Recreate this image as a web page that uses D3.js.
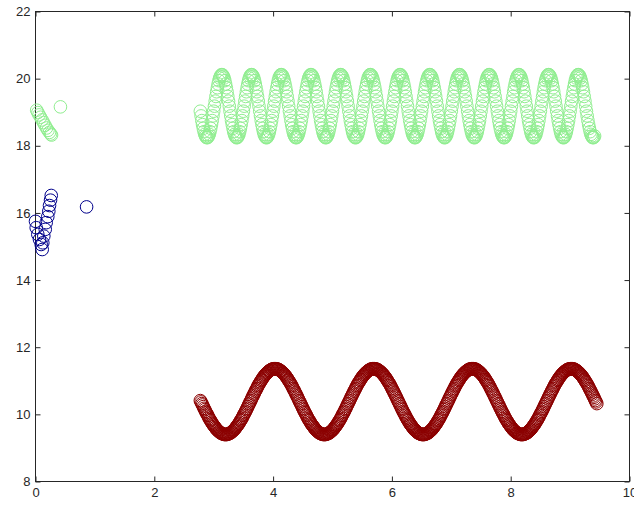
<!DOCTYPE html>
<html>
<head>
<meta charset="utf-8">
<script src="https://cdn.jsdelivr.net/npm/d3@7"></script>
<style>
  html, body { margin: 0; padding: 0; background: #fff; }
  svg { display: block; }
</style>
</head>
<body>
<svg id="chart" width="634" height="505"></svg>
<script>
// Axis ticks
const xTicks = [0, 2, 4, 6, 8, 10];
const yTicks = [8, 10, 12, 14, 16, 18, 20, 22];

// Shared sample positions of the two long waves
const waveX = [
  2.775,2.7875,2.8,2.8125,2.825,2.8375,2.85,2.8625,
  2.875,2.8875,2.9,2.9125,2.925,2.9375,2.95,2.9625,
  2.975,2.9875,3,3.0125,3.025,3.0375,3.05,3.0625,
  3.075,3.0875,3.1,3.1125,3.125,3.1375,3.15,3.1625,
  3.175,3.1875,3.2,3.2125,3.225,3.2375,3.25,3.2625,
  3.275,3.2875,3.3,3.3125,3.325,3.3375,3.35,3.3625,
  3.375,3.3875,3.4,3.4125,3.425,3.4375,3.45,3.4625,
  3.475,3.4875,3.5,3.5125,3.525,3.5375,3.55,3.5625,
  3.575,3.5875,3.6,3.6125,3.625,3.6375,3.65,3.6625,
  3.675,3.6875,3.7,3.7125,3.725,3.7375,3.75,3.7625,
  3.775,3.7875,3.8,3.8125,3.825,3.8375,3.85,3.8625,
  3.875,3.8875,3.9,3.9125,3.925,3.9375,3.95,3.9625,
  3.975,3.9875,4,4.0125,4.025,4.0375,4.05,4.0625,
  4.075,4.0875,4.1,4.1125,4.125,4.1375,4.15,4.1625,
  4.175,4.1875,4.2,4.2125,4.225,4.2375,4.25,4.2625,
  4.275,4.2875,4.3,4.3125,4.325,4.3375,4.35,4.3625,
  4.375,4.3875,4.4,4.4125,4.425,4.4375,4.45,4.4625,
  4.475,4.4875,4.5,4.5125,4.525,4.5375,4.55,4.5625,
  4.575,4.5875,4.6,4.6125,4.625,4.6375,4.65,4.6625,
  4.675,4.6875,4.7,4.7125,4.725,4.7375,4.75,4.7625,
  4.775,4.7875,4.8,4.8125,4.825,4.8375,4.85,4.8625,
  4.875,4.8875,4.9,4.9125,4.925,4.9375,4.95,4.9625,
  4.975,4.9875,5,5.0125,5.025,5.0375,5.05,5.0625,
  5.075,5.0875,5.1,5.1125,5.125,5.1375,5.15,5.1625,
  5.175,5.1875,5.2,5.2125,5.225,5.2375,5.25,5.2625,
  5.275,5.2875,5.3,5.3125,5.325,5.3375,5.35,5.3625,
  5.375,5.3875,5.4,5.4125,5.425,5.4375,5.45,5.4625,
  5.475,5.4875,5.5,5.5125,5.525,5.5375,5.55,5.5625,
  5.575,5.5875,5.6,5.6125,5.625,5.6375,5.65,5.6625,
  5.675,5.6875,5.7,5.7125,5.725,5.7375,5.75,5.7625,
  5.775,5.7875,5.8,5.8125,5.825,5.8375,5.85,5.8625,
  5.875,5.8875,5.9,5.9125,5.925,5.9375,5.95,5.9625,
  5.975,5.9875,6,6.0125,6.025,6.0375,6.05,6.0625,
  6.075,6.0875,6.1,6.1125,6.125,6.1375,6.15,6.1625,
  6.175,6.1875,6.2,6.2125,6.225,6.2375,6.25,6.2625,
  6.275,6.2875,6.3,6.3125,6.325,6.3375,6.35,6.3625,
  6.375,6.3875,6.4,6.4125,6.425,6.4375,6.45,6.4625,
  6.475,6.4875,6.5,6.5125,6.525,6.5375,6.55,6.5625,
  6.575,6.5875,6.6,6.6125,6.625,6.6375,6.65,6.6625,
  6.675,6.6875,6.7,6.7125,6.725,6.7375,6.75,6.7625,
  6.775,6.7875,6.8,6.8125,6.825,6.8375,6.85,6.8625,
  6.875,6.8875,6.9,6.9125,6.925,6.9375,6.95,6.9625,
  6.975,6.9875,7,7.0125,7.025,7.0375,7.05,7.0625,
  7.075,7.0875,7.1,7.1125,7.125,7.1375,7.15,7.1625,
  7.175,7.1875,7.2,7.2125,7.225,7.2375,7.25,7.2625,
  7.275,7.2875,7.3,7.3125,7.325,7.3375,7.35,7.3625,
  7.375,7.3875,7.4,7.4125,7.425,7.4375,7.45,7.4625,
  7.475,7.4875,7.5,7.5125,7.525,7.5375,7.55,7.5625,
  7.575,7.5875,7.6,7.6125,7.625,7.6375,7.65,7.6625,
  7.675,7.6875,7.7,7.7125,7.725,7.7375,7.75,7.7625,
  7.775,7.7875,7.8,7.8125,7.825,7.8375,7.85,7.8625,
  7.875,7.8875,7.9,7.9125,7.925,7.9375,7.95,7.9625,
  7.975,7.9875,8,8.0125,8.025,8.0375,8.05,8.0625,
  8.075,8.0875,8.1,8.1125,8.125,8.1375,8.15,8.1625,
  8.175,8.1875,8.2,8.2125,8.225,8.2375,8.25,8.2625,
  8.275,8.2875,8.3,8.3125,8.325,8.3375,8.35,8.3625,
  8.375,8.3875,8.4,8.4125,8.425,8.4375,8.45,8.4625,
  8.475,8.4875,8.5,8.5125,8.525,8.5375,8.55,8.5625,
  8.575,8.5875,8.6,8.6125,8.625,8.6375,8.65,8.6625,
  8.675,8.6875,8.7,8.7125,8.725,8.7375,8.75,8.7625,
  8.775,8.7875,8.8,8.8125,8.825,8.8375,8.85,8.8625,
  8.875,8.8875,8.9,8.9125,8.925,8.9375,8.95,8.9625,
  8.975,8.9875,9,9.0125,9.025,9.0375,9.05,9.0625,
  9.075,9.0875,9.1,9.1125,9.125,9.1375,9.15,9.1625,
  9.175,9.1875,9.2,9.2125,9.225,9.2375,9.25,9.2625,
  9.275,9.2875,9.3,9.3125,9.325,9.3375,9.35,9.3625,
  9.375,9.3875,9.4,9.4125,9.425,9.4375,9.45
];

// Slow wave (dark red)
const redY = [
  10.41,10.37,10.32,10.28,10.23,10.18,10.14,10.09,
  10.05,10.01,9.97,9.92,9.88,9.84,9.81,9.77,9.73,9.70,
  9.67,9.64,9.61,9.58,9.55,9.53,9.51,9.49,9.47,9.45,
  9.44,9.43,9.42,9.41,9.40,9.40,

  9.40,9.40,9.40,9.41,9.42,9.43,9.44,9.45,9.47,9.49,
  9.51,9.53,9.55,9.58,9.61,9.64,9.67,9.70,9.73,9.77,
  9.81,9.84,9.88,9.92,9.97,10.01,10.05,10.09,10.14,10.18,
  10.23,10.28,10.32,10.37,10.41,10.46,10.51,10.55,10.60,10.64,
  10.69,10.73,10.77,10.82,10.86,10.90,10.94,10.97,11.01,11.04,
  11.08,11.11,11.14,11.17,11.19,11.22,11.24,11.26,11.28,11.30,
  11.31,11.33,11.34,11.35,11.35,11.36,11.36,
  11.36,11.36,11.35,11.35,11.34,11.33,11.31,11.30,11.28,11.26,
  11.24,11.22,11.19,11.17,11.14,11.11,11.08,11.04,11.01,10.97,
  10.94,10.90,10.86,10.82,10.77,10.73,10.69,10.64,10.60,10.55,
  10.51,10.46,10.41,10.37,10.32,10.28,10.23,10.18,10.14,10.09,
  10.05,10.01,9.97,9.92,9.88,9.84,9.81,9.77,9.73,9.70,
  9.67,9.64,9.61,9.58,9.55,9.53,9.51,9.49,9.47,9.45,
  9.44,9.43,9.42,9.41,9.40,9.40,

  9.40,9.40,9.40,9.41,9.42,9.43,9.44,9.45,9.47,9.49,
  9.51,9.53,9.55,9.58,9.61,9.64,9.67,9.70,9.73,9.77,
  9.81,9.84,9.88,9.92,9.97,10.01,10.05,10.09,10.14,10.18,
  10.23,10.28,10.32,10.37,10.41,10.46,10.51,10.55,10.60,10.64,
  10.69,10.73,10.77,10.82,10.86,10.90,10.94,10.97,11.01,11.04,
  11.08,11.11,11.14,11.17,11.19,11.22,11.24,11.26,11.28,11.30,
  11.31,11.33,11.34,11.35,11.35,11.36,11.36,
  11.36,11.36,11.35,11.35,11.34,11.33,11.31,11.30,11.28,11.26,
  11.24,11.22,11.19,11.17,11.14,11.11,11.08,11.04,11.01,10.97,
  10.94,10.90,10.86,10.82,10.77,10.73,10.69,10.64,10.60,10.55,
  10.51,10.46,10.41,10.37,10.32,10.28,10.23,10.18,10.14,10.09,
  10.05,10.01,9.97,9.92,9.88,9.84,9.81,9.77,9.73,9.70,
  9.67,9.64,9.61,9.58,9.55,9.53,9.51,9.49,9.47,9.45,
  9.44,9.43,9.42,9.41,9.40,9.40,

  9.40,9.40,9.40,9.41,9.42,9.43,9.44,9.45,9.47,9.49,
  9.51,9.53,9.55,9.58,9.61,9.64,9.67,9.70,9.73,9.77,
  9.81,9.84,9.88,9.92,9.97,10.01,10.05,10.09,10.14,10.18,
  10.23,10.28,10.32,10.37,10.41,10.46,10.51,10.55,10.60,10.64,
  10.69,10.73,10.77,10.82,10.86,10.90,10.94,10.97,11.01,11.04,
  11.08,11.11,11.14,11.17,11.19,11.22,11.24,11.26,11.28,11.30,
  11.31,11.33,11.34,11.35,11.35,11.36,11.36,
  11.36,11.36,11.35,11.35,11.34,11.33,11.31,11.30,11.28,11.26,
  11.24,11.22,11.19,11.17,11.14,11.11,11.08,11.04,11.01,10.97,
  10.94,10.90,10.86,10.82,10.77,10.73,10.69,10.64,10.60,10.55,
  10.51,10.46,10.41,10.37,10.32,10.28,10.23,10.18,10.14,10.09,
  10.05,10.01,9.97,9.92,9.88,9.84,9.81,9.77,9.73,9.70,
  9.67,9.64,9.61,9.58,9.55,9.53,9.51,9.49,9.47,9.45,
  9.44,9.43,9.42,9.41,9.40,9.40,

  9.40,9.40,9.40,9.41,9.42,9.43,9.44,9.45,9.47,9.49,
  9.51,9.53,9.55,9.58,9.61,9.64,9.67,9.70,9.73,9.77,
  9.81,9.84,9.88,9.92,9.97,10.01,10.05,10.09,10.14,10.18,
  10.23,10.28,10.32,10.37,10.41,10.46,10.51,10.55,10.60,10.64,
  10.69,10.73,10.77,10.82,10.86,10.90,10.94,10.97,11.01,11.04,
  11.08,11.11,11.14,11.17,11.19,11.22,11.24,11.26,11.28,11.30,
  11.31,11.33,11.34,11.35,11.35,11.36,11.36,
  11.36,11.36,11.35,11.35,11.34,11.33,11.31,11.30,11.28,11.26,
  11.24,11.22,11.19,11.17,11.14,11.11,11.08,11.04,11.01,10.97,
  10.94,10.90,10.86,10.82,10.77,10.73,10.69,10.64,10.60,10.55,
  10.51,10.46,10.41,10.37,10.32
];

// Fast wave (light green)
const greenY = [
  19.03,18.89,18.75,18.63,18.52,18.42,18.34,18.29,18.25,18.24,
  18.25,18.29,18.34,18.42,18.52,18.63,18.75,18.89,19.03,19.18,
  19.33,19.47,19.61,19.73,19.84,19.94,20.02,20.07,20.11,

  20.12,20.11,20.07,20.02,19.94,19.84,19.73,19.61,19.47,19.33,
  19.18,19.03,18.89,18.75,18.63,18.52,18.42,18.34,18.29,18.25,
  18.24,18.25,18.29,18.34,18.42,18.52,18.63,18.75,18.89,19.03,
  19.18,19.33,19.47,19.61,19.73,19.84,19.94,20.02,20.07,20.11,

  20.12,20.11,20.07,20.02,19.94,19.84,19.73,19.61,19.47,19.33,
  19.18,19.03,18.89,18.75,18.63,18.52,18.42,18.34,18.29,18.25,
  18.24,18.25,18.29,18.34,18.42,18.52,18.63,18.75,18.89,19.03,
  19.18,19.33,19.47,19.61,19.73,19.84,19.94,20.02,20.07,20.11,

  20.12,20.11,20.07,20.02,19.94,19.84,19.73,19.61,19.47,19.33,
  19.18,19.03,18.89,18.75,18.63,18.52,18.42,18.34,18.29,18.25,
  18.24,18.25,18.29,18.34,18.42,18.52,18.63,18.75,18.89,19.03,
  19.18,19.33,19.47,19.61,19.73,19.84,19.94,20.02,20.07,20.11,

  20.12,20.11,20.07,20.02,19.94,19.84,19.73,19.61,19.47,19.33,
  19.18,19.03,18.89,18.75,18.63,18.52,18.42,18.34,18.29,18.25,
  18.24,18.25,18.29,18.34,18.42,18.52,18.63,18.75,18.89,19.03,
  19.18,19.33,19.47,19.61,19.73,19.84,19.94,20.02,20.07,20.11,

  20.12,20.11,20.07,20.02,19.94,19.84,19.73,19.61,19.47,19.33,
  19.18,19.03,18.89,18.75,18.63,18.52,18.42,18.34,18.29,18.25,
  18.24,18.25,18.29,18.34,18.42,18.52,18.63,18.75,18.89,19.03,
  19.18,19.33,19.47,19.61,19.73,19.84,19.94,20.02,20.07,20.11,

  20.12,20.11,20.07,20.02,19.94,19.84,19.73,19.61,19.47,19.33,
  19.18,19.03,18.89,18.75,18.63,18.52,18.42,18.34,18.29,18.25,
  18.24,18.25,18.29,18.34,18.42,18.52,18.63,18.75,18.89,19.03,
  19.18,19.33,19.47,19.61,19.73,19.84,19.94,20.02,20.07,20.11,

  20.12,20.11,20.07,20.02,19.94,19.84,19.73,19.61,19.47,19.33,
  19.18,19.03,18.89,18.75,18.63,18.52,18.42,18.34,18.29,18.25,
  18.24,18.25,18.29,18.34,18.42,18.52,18.63,18.75,18.89,19.03,
  19.18,19.33,19.47,19.61,19.73,19.84,19.94,20.02,20.07,20.11,

  20.12,20.11,20.07,20.02,19.94,19.84,19.73,19.61,19.47,19.33,
  19.18,19.03,18.89,18.75,18.63,18.52,18.42,18.34,18.29,18.25,
  18.24,18.25,18.29,18.34,18.42,18.52,18.63,18.75,18.89,19.03,
  19.18,19.33,19.47,19.61,19.73,19.84,19.94,20.02,20.07,20.11,

  20.12,20.11,20.07,20.02,19.94,19.84,19.73,19.61,19.47,19.33,
  19.18,19.03,18.89,18.75,18.63,18.52,18.42,18.34,18.29,18.25,
  18.24,18.25,18.29,18.34,18.42,18.52,18.63,18.75,18.89,19.03,
  19.18,19.33,19.47,19.61,19.73,19.84,19.94,20.02,20.07,20.11,

  20.12,20.11,20.07,20.02,19.94,19.84,19.73,19.61,19.47,19.33,
  19.18,19.03,18.89,18.75,18.63,18.52,18.42,18.34,18.29,18.25,
  18.24,18.25,18.29,18.34,18.42,18.52,18.63,18.75,18.89,19.03,
  19.18,19.33,19.47,19.61,19.73,19.84,19.94,20.02,20.07,20.11,

  20.12,20.11,20.07,20.02,19.94,19.84,19.73,19.61,19.47,19.33,
  19.18,19.03,18.89,18.75,18.63,18.52,18.42,18.34,18.29,18.25,
  18.24,18.25,18.29,18.34,18.42,18.52,18.63,18.75,18.89,19.03,
  19.18,19.33,19.47,19.61,19.73,19.84,19.94,20.02,20.07,20.11,

  20.12,20.11,20.07,20.02,19.94,19.84,19.73,19.61,19.47,19.33,
  19.18,19.03,18.89,18.75,18.63,18.52,18.42,18.34,18.29,18.25,
  18.24,18.25,18.29,18.34,18.42,18.52,18.63,18.75,18.89,19.03,
  19.18,19.33,19.47,19.61,19.73,19.84,19.94,20.02,20.07,20.11,

  20.12,20.11,20.07,20.02,19.94,19.84,19.73,19.61,19.47,19.33,
  19.18,19.03,18.89,18.75,18.63,18.52,18.42,18.34,18.29,18.25,
  18.24,18.25,18.29
];

// Short runs near the left edge
const greenEarlyX = [0.02,0.04,0.06,0.085,0.11,0.135,0.16,0.185,0.21,0.235,0.255,0.27,0.42];
const greenEarlyY = [19.06,18.99,18.92,18.85,18.77,18.69,18.61,18.53,18.46,18.40,18.35,18.32,19.16];
const blueX = [0.00,0.012,0.039,0.067,0.096,0.113,0.123,0.14,0.164,0.18,0.207,0.224,0.236,0.253,0.265,0.86];
const blueY = [15.75,15.56,15.36,15.21,15.06,14.91,15.11,15.31,15.51,15.71,15.89,16.05,16.22,16.38,16.52,16.18];

const axisColor = "#262626";
const markerR = 6.3;

const svg = d3.select("#chart");
const x = d3.scaleLinear().domain([0, 10]).range([35.5, 629.5]);
const y = d3.scaleLinear().domain([8, 22]).range([481.5, 11.5]);

function styleAxis(g) {
  g.select(".domain").remove();
  g.selectAll(".tick line").attr("stroke", axisColor);
  g.selectAll(".tick text")
    .attr("fill", axisColor)
    .style("font-family", "'Liberation Sans', Arial, Helvetica, sans-serif")
    .style("font-size", "13px");
}

// Ticks on all four sides, pointing inwards
svg.append("g").attr("transform", `translate(0,${y(8)})`)
  .call(d3.axisBottom(x).tickValues(xTicks).tickSize(-5).tickSizeOuter(0).tickPadding(6))
  .call(styleAxis);
svg.append("g").attr("transform", `translate(0,${y(22)})`)
  .call(d3.axisTop(x).tickValues(xTicks).tickSize(-5).tickSizeOuter(0).tickFormat(""))
  .call(styleAxis);
svg.append("g").attr("transform", `translate(${x(0)},0)`)
  .call(d3.axisLeft(y).tickValues(yTicks).tickSize(-5).tickSizeOuter(0).tickPadding(5))
  .call(styleAxis);
svg.append("g").attr("transform", `translate(${x(10)},0)`)
  .call(d3.axisRight(y).tickValues(yTicks).tickSize(-5).tickSizeOuter(0).tickFormat(""))
  .call(styleAxis);

// Plot box
svg.append("rect")
  .attr("x", x(0)).attr("y", y(22))
  .attr("width", x(10) - x(0)).attr("height", y(8) - y(22))
  .attr("fill", "none").attr("stroke", axisColor).attr("stroke-width", 1);

// One open circle per value; a series may be shorter than its x list
function drawSeries(xs, ys, color) {
  const pts = ys.map((v, i) => [xs[i], v]);
  svg.append("g")
    .selectAll("circle")
    .data(pts)
    .join("circle")
    .attr("cx", d => x(d[0]))
    .attr("cy", d => y(d[1]))
    .attr("r", markerR)
    .attr("fill", "none")
    .attr("stroke", color)
    .attr("stroke-width", 1);
}

drawSeries(waveX, redY, "#8b0000");
drawSeries(waveX, greenY, "#90ee90");
drawSeries(greenEarlyX, greenEarlyY, "#90ee90");
drawSeries(blueX, blueY, "#00008b");
</script>
</body>
</html>
